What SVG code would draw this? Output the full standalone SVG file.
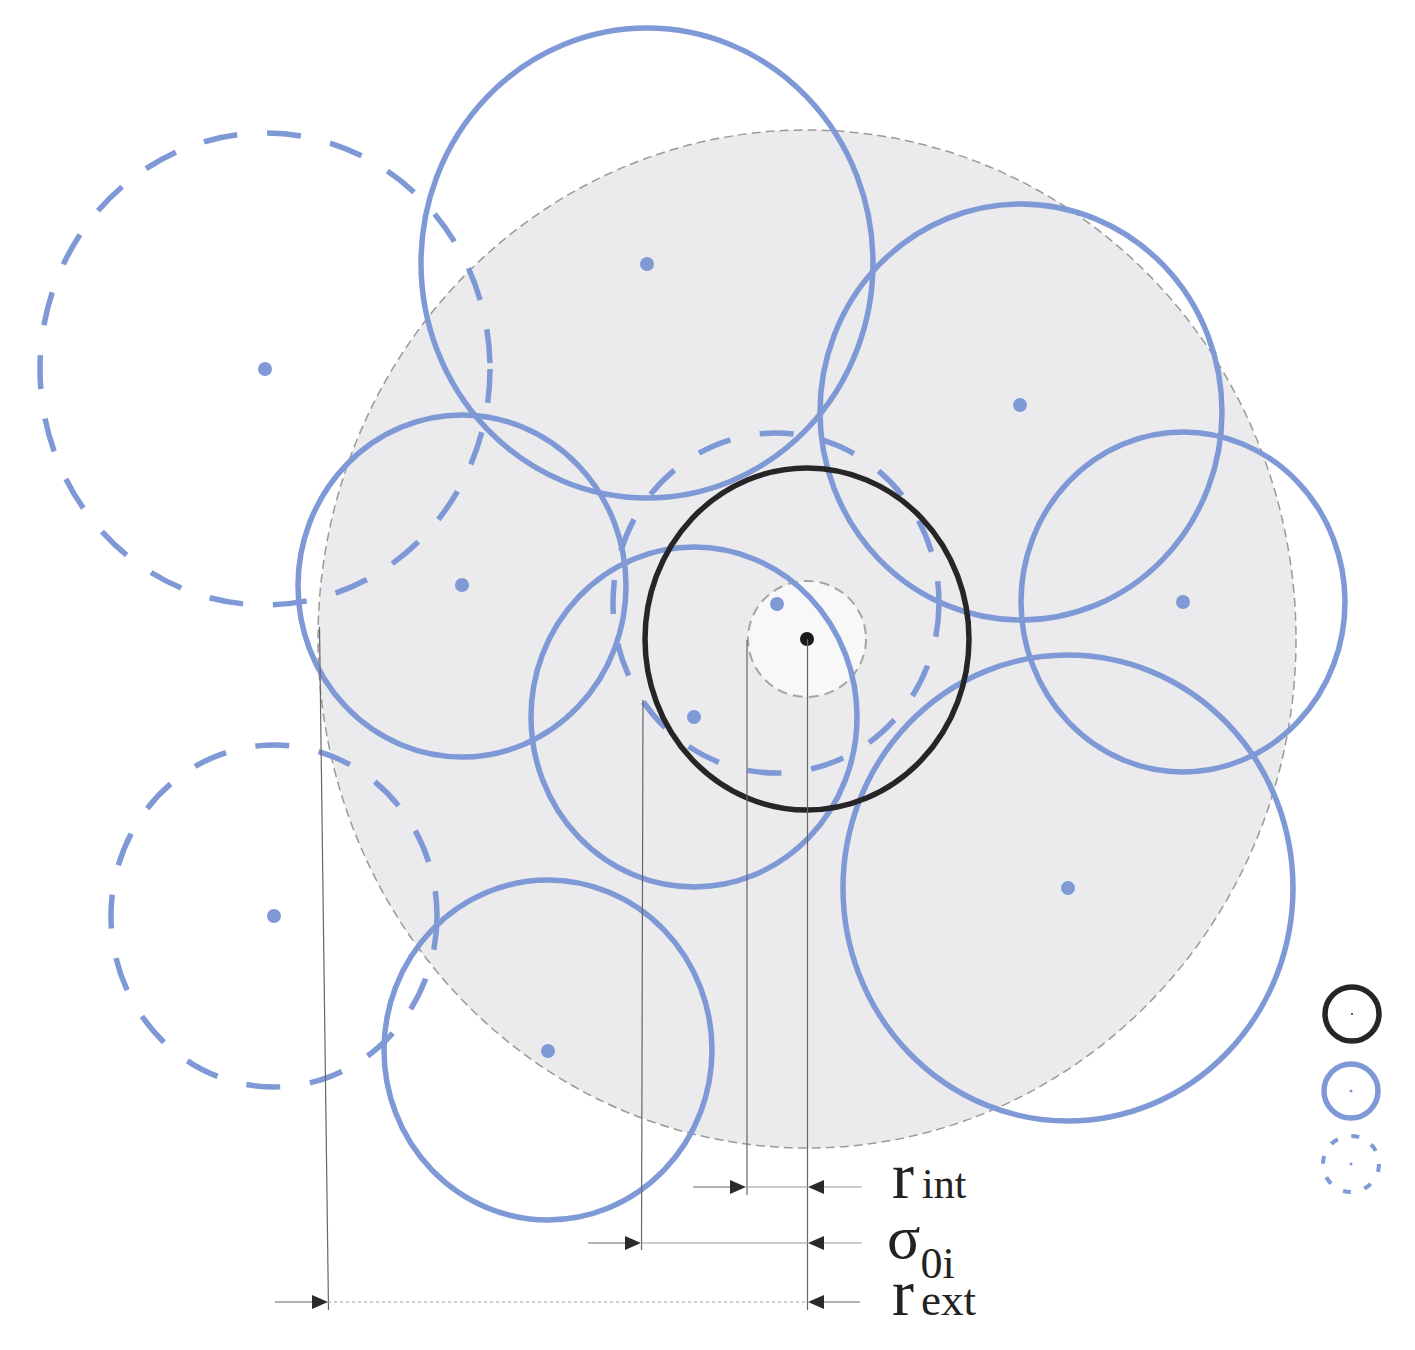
<svg xmlns="http://www.w3.org/2000/svg" width="1415" height="1350" viewBox="0 0 1415 1350">
<style>
.blue{fill:none;stroke:#7f98d6;stroke-width:5.5}
.dash{fill:none;stroke:#7f98d6;stroke-width:5.5;stroke-dasharray:34 30}
.dot{fill:#7f98d6}
.black{fill:none;stroke:#262626;stroke-width:5.5}
.dim{stroke:#666;stroke-width:1.2;fill:none}
.dimlight{stroke:#999;stroke-width:1;fill:none}
.arrow{fill:#2a2a2a}
.lbl{font-family:"Liberation Serif",serif;fill:#222}
</style>
<rect width="1415" height="1350" fill="#fff"/>
<g id="domain">
<ellipse cx="807" cy="639" rx="489" ry="509" fill="#ebebed" stroke="#9a9a9a" stroke-width="1.5" stroke-dasharray="9 5"/>
<ellipse cx="807" cy="639" rx="59" ry="58" fill="#f8f8f8" stroke="#a5a5a5" stroke-width="2" stroke-dasharray="10 6"/>
</g>
<g id="circles-dashed">
<ellipse class="dash" cx="265" cy="369" rx="225" ry="236"/>
<ellipse class="dash" cx="274" cy="916" rx="163" ry="171"/>
<ellipse class="dash" cx="776" cy="603" rx="163" ry="170"/>
<circle class="dot" cx="265" cy="369" r="7"/>
<circle class="dot" cx="274" cy="916" r="7"/>
<circle class="dot" cx="777" cy="604" r="7"/>
</g>
<g id="circles-solid">
<ellipse class="blue" cx="647" cy="263" rx="226" ry="235"/>
<ellipse class="blue" cx="1021" cy="412" rx="201" ry="208"/>
<ellipse class="blue" cx="1183" cy="602" rx="162" ry="170"/>
<ellipse class="blue" cx="1068" cy="888" rx="225" ry="233"/>
<ellipse class="blue" cx="548" cy="1050" rx="164" ry="170"/>
<ellipse class="blue" cx="694" cy="717" rx="163" ry="170"/>
<ellipse class="blue" cx="462" cy="586" rx="164" ry="171"/>
<circle class="dot" cx="647" cy="264" r="7"/>
<circle class="dot" cx="1020" cy="405" r="7"/>
<circle class="dot" cx="1183" cy="602" r="7"/>
<circle class="dot" cx="1068" cy="888" r="7"/>
<circle class="dot" cx="548" cy="1051" r="7"/>
<circle class="dot" cx="694" cy="717" r="7"/>
<circle class="dot" cx="462" cy="585" r="7"/>
</g>
<g id="central">
<ellipse class="black" cx="807" cy="639" rx="162" ry="171"/>
<circle cx="807" cy="639" r="7" fill="#1a1a1a"/>
</g>
<g id="connectors">
<line class="dim" x1="807.5" y1="639" x2="807.5" y2="1310"/>
<line class="dim" x1="747" y1="640" x2="747" y2="1195"/>
<line class="dim" x1="643" y1="700" x2="641.5" y2="1250"/>
<line class="dim" x1="319.5" y1="627" x2="328.5" y2="1310"/>
<line class="dim" x1="693" y1="1187" x2="732" y2="1187"/>
<line class="dimlight" x1="746" y1="1187" x2="808" y2="1187"/>
<line class="dimlight" x1="822" y1="1187" x2="862" y2="1187"/>
<line class="dim" x1="588" y1="1243" x2="627" y2="1243"/>
<line class="dimlight" x1="641" y1="1243" x2="808" y2="1243"/>
<line class="dimlight" x1="822" y1="1243" x2="862" y2="1243"/>
<line class="dim" x1="275" y1="1302" x2="314" y2="1302"/>
<line class="dimlight" x1="328" y1="1302" x2="808" y2="1302" stroke-dasharray="3 3"/>
<line class="dim" x1="822" y1="1302" x2="860" y2="1302"/>
<path class="arrow" d="M746 1187 L730 1180 L730 1194 Z"/>
<path class="arrow" d="M808 1187 L824 1180 L824 1194 Z"/>
<path class="arrow" d="M641 1243 L625 1236 L625 1250 Z"/>
<path class="arrow" d="M808 1243 L824 1236 L824 1250 Z"/>
<path class="arrow" d="M328 1302 L312 1295 L312 1309 Z"/>
<path class="arrow" d="M808 1302 L824 1295 L824 1309 Z"/>
</g>
<g id="labels">
<text class="lbl" x="892" y="1198" font-size="66">r<tspan font-size="42" dx="8">int</tspan></text>
<text class="lbl" x="887" y="1258" font-size="62">σ<tspan font-size="44" dy="20" dx="0">0i</tspan></text>
<text class="lbl" x="892" y="1315" font-size="66">r<tspan font-size="45" dx="7">ext</tspan></text>
</g>
<g id="legend">
<circle cx="1352" cy="1014" r="27" fill="none" stroke="#262626" stroke-width="5.5"/>
<circle cx="1352" cy="1014" r="1" fill="#222"/>
<circle cx="1351" cy="1091" r="27" class="blue"/>
<circle cx="1351" cy="1091" r="1.5" class="dot"/>
<circle cx="1351" cy="1164" r="28" fill="none" stroke="#7f98d6" stroke-width="4" stroke-dasharray="8 14"/>
<circle cx="1351" cy="1164" r="1.5" class="dot"/>
</g>
</svg>
